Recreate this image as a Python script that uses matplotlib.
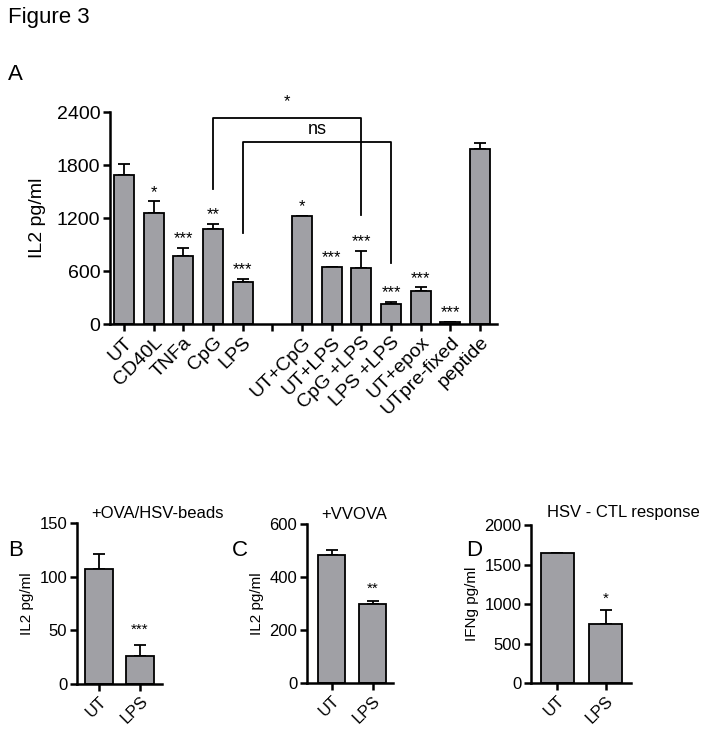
import matplotlib
matplotlib.use('Agg')
import matplotlib.pyplot as plt

plt.rcParams['font.family'] = ['Liberation Sans', 'DejaVu Sans']

# panel A data
a_labels = ['UT', 'CD40L', 'TNFa', 'CpG', 'LPS', '', 'UT+CpG', 'UT+LPS', 'CpG +LPS',
            'LPS +LPS', 'UT+epox', 'UTpre-fixed', 'peptide']
a_values = [1685, 1265, 777, 1083, 479, 0, 1226, 645, 641, 226, 381, 26, 1982]
a_errors = [130, 130, 90, 55, 35, 0, 5, 5, 190, 30, 38, 5, 75]
a_stars = ['', '*', '***', '**', '***', '', '*', '***', '***', '***', '***', '***', '']
a_present = [True] * 5 + [False] + [True] * 7

# panels B-D data
b_labels = ['UT', 'LPS']
b_values = [107, 26]
b_errors = [14, 10]
c_values = [483, 300]
c_errors = [20, 10]
d_values = [1640, 755]
d_errors = [8, 170]

bar_color = '#a0a0a5'
W, H = 710, 740
fig = plt.figure(figsize=(7.1, 7.4), dpi=100)


def px_axes(x0, x1, ytop, ybot):
    return fig.add_axes([x0 / W, (H - ybot) / H, (x1 - x0) / W, (ybot - ytop) / H])


def style(ax, fs):
    for s in ['top', 'right']:
        ax.spines[s].set_visible(False)
    for s in ['left', 'bottom']:
        ax.spines[s].set_linewidth(1.8)
    ax.tick_params(width=1.8, length=5, labelsize=fs, pad=2)


def bars(ax, vals, errs):
    x = list(range(len(vals)))
    ax.bar(x, vals, width=0.68, color=bar_color, edgecolor='black', linewidth=1.3, zorder=2)
    ax.errorbar(x, vals, yerr=[[0] * len(errs), errs], fmt='none', ecolor='black',
                elinewidth=1.3, capsize=4, capthick=1.3, zorder=1)


# ---- panel A
axA = px_axes(110, 497, 112.3, 324.3)
style(axA, 14)
xs = [i for i in range(len(a_labels)) if a_present[i]]
axA.bar(xs, [a_values[i] for i in xs], width=0.68, color=bar_color,
        edgecolor='black', linewidth=1.3, zorder=2)
axA.errorbar(xs, [a_values[i] for i in xs], yerr=[[0] * len(xs), [a_errors[i] for i in xs]],
             fmt='none', ecolor='black', elinewidth=1.3, capsize=4, capthick=1.3, zorder=1)
axA.set_xlim(-0.47, 12.57)
axA.set_ylim(0, 2400)
axA.set_yticks([0, 600, 1200, 1800, 2400])
axA.set_xticks(range(len(a_labels)))
axA.set_xticklabels(a_labels, rotation=45, ha='right', rotation_mode='anchor')
axA.set_ylabel('IL2 pg/ml', fontsize=14, labelpad=8)
for i, s in enumerate(a_stars):
    if s:
        axA.annotate(s, (i, a_values[i] + a_errors[i]), xytext=(0, 1), textcoords='offset points',
                     ha='center', va='bottom', fontsize=12)

# significance brackets
axA.plot([3, 3, 8, 8], [1530, 2340, 2340, 1238], color='black', lw=1.3, clip_on=False)
axA.text(5.5, 2440, '*', ha='center', va='bottom', fontsize=12)
axA.plot([4, 4, 9, 9], [1034, 2068, 2068, 698], color='black', lw=1.3, clip_on=False)
axA.text(6.5, 2110, 'ns', ha='center', va='bottom', fontsize=13)

# ---- panel B
axB = px_axes(77, 162, 523.3, 684)
style(axB, 12)
bars(axB, b_values, b_errors)
axB.set_xlim(-0.54, 1.54)
axB.set_ylim(0, 150)
axB.set_yticks([0, 50, 100, 150])
axB.set_xticks([0, 1])
axB.set_xticklabels(b_labels, rotation=45, ha='right', rotation_mode='anchor')
axB.set_ylabel('IL2 pg/ml', fontsize=11)
axB.set_title('+OVA/HSV-beads', fontsize=12, x=0.95, pad=4)
axB.annotate('***', (1, b_values[1] + b_errors[1]), xytext=(0, 6), textcoords='offset points',
             ha='center', va='bottom', fontsize=11)

# ---- panel C
axC = px_axes(307, 393, 524.3, 683.3)
style(axC, 12)
bars(axC, c_values, c_errors)
axC.set_xlim(-0.6, 1.5)
axC.set_ylim(0, 600)
axC.set_yticks([0, 200, 400, 600])
axC.set_xticks([0, 1])
axC.set_xticklabels(b_labels, rotation=45, ha='right', rotation_mode='anchor')
axC.set_ylabel('IL2 pg/ml', fontsize=11)
axC.set_title('+VVOVA', fontsize=12, x=0.55, pad=4)
axC.annotate('**', (1, c_values[1] + c_errors[1]), xytext=(0, 4), textcoords='offset points',
             ha='center', va='bottom', fontsize=11)

# ---- panel D
axD = px_axes(531, 631, 525, 683.3)
style(axD, 12)
bars(axD, d_values, d_errors)
axD.set_xlim(-0.54, 1.52)
axD.set_ylim(0, 2000)
axD.set_yticks([0, 500, 1000, 1500, 2000])
axD.set_xticks([0, 1])
axD.set_xticklabels(b_labels, rotation=45, ha='right', rotation_mode='anchor')
axD.set_ylabel('IFNg pg/ml', fontsize=11)
axD.set_title('HSV - CTL response', fontsize=12, x=0.92, pad=6)
axD.annotate('*', (1, d_values[1] + d_errors[1]), xytext=(0, 3), textcoords='offset points',
             ha='center', va='bottom', fontsize=11)

# panel letters
fig.text(8 / W, 1 - 18 / H, 'Figure 3', fontsize=16, va='center', ha='left')
fig.text(8 / W, 1 - 75 / H, 'A', fontsize=16, va='center', ha='left')
fig.text(8 / W, 1 - 550 / H, 'B', fontsize=16, va='center', ha='left')
fig.text(232 / W, 1 - 550 / H, 'C', fontsize=16, va='center', ha='left')
fig.text(466 / W, 1 - 550 / H, 'D', fontsize=16, va='center', ha='left')

fig.savefig('out.png', dpi=100)
